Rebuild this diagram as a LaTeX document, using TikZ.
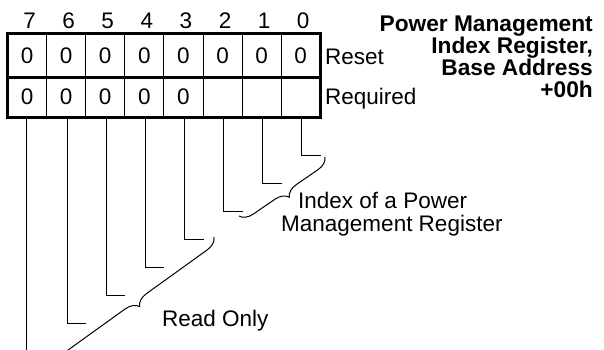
\documentclass[tikz,border=0pt]{standalone}
\usepackage{fontspec}
\setmainfont{Liberation Sans}
\usetikzlibrary{decorations.pathreplacing}
\begin{document}
\begin{tikzpicture}[x=1pt,y=-1pt,
  txt/.style={font=\fontsize{22.5}{22.5}\selectfont, inner sep=0pt},
  ttl/.style={font=\fontsize{22.7}{22.7}\selectfont\bfseries, inner sep=0pt, anchor=base east},
  cellA/.style={draw, line width=1pt, minimum width=39.1pt, minimum height=43.5pt, inner sep=0pt, anchor=north west, txt},
  cellB/.style={draw, line width=1pt, minimum width=39.1pt, minimum height=40pt, inner sep=0pt, anchor=north west, txt},
  lead/.style={line width=1pt},
  bracelink/.style={line width=1pt, decorate, decoration={brace, amplitude=13pt}},
  frame/.style={line width=3pt}]
\useasboundingbox (0,0) rectangle (604,349);
\clip (0,0) rectangle (604,349);
% bit numbers and cells
\foreach \b [count=\i from 0] in {7,6,5,4,3,2,1,0} {
  \node[txt, anchor=base] (b\b) at ({7+39.1*\i+19.55+3},28) {\b};
}
\foreach \b/\v [count=\i from 0] in {7/0,6/0,5/0,4/0,3/0,2/0,1/0,0/0} {
  \node[cellA] (s\b) at ({7+39.1*\i},33) {\v};
}
\foreach \b/\v [count=\i from 0] in {7/0,6/0,5/0,4/0,3/0,2/{},1/{},0/{}} {
  \node[cellB] (q\b) at ({7+39.1*\i},76.5) {\v};
}
\draw[frame] (s7.north west) rectangle (q0.south east);
\draw[frame] (s7.south west) -- (s0.south east);
% row labels
\node[txt, anchor=base west] (reset) at (325,64) {Reset};
\node[txt, anchor=base west] (req) at (325,104) {Required};
% title
\node[ttl] (t1) at (593,31) {Power Management};
\node[ttl] (t2) at (593,53) {Index Register,};
\node[ttl] (t3) at (593,75) {Base Address};
\node[ttl] (t4) at (593,97) {+00h};
% leads
\foreach \b/\y in {0/155,1/183,2/211,3/239,4/267,5/295,6/323} {
  \coordinate (e\b) at (q\b.south east |- 0,\y);
  \draw[lead] ([xshift=1pt]q\b.south) |- (e\b);
}
\coordinate (e7) at (q7.south |- 0,352);
\draw[lead] ([xshift=-0.5pt]q7.south) -- ([xshift=-0.5pt]e7);
% braces
\coordinate (ba1) at (325,157);
\coordinate (bb1) at (239,216);
\draw[bracelink] (ba1) -- (bb1);
\coordinate (ba2) at (214,237);
\coordinate (bb2) at (50,355);
\draw[bracelink] (ba2) -- (bb2);
% brace labels
\node[txt, anchor=base west] (idx1) at (298,208) {Index of a Power};
\node[txt, anchor=base west] (idx2) at (281,231) {Management Register};
\node[txt, anchor=base west] (ro) at (162,326) {Read Only};
\end{tikzpicture}
\end{document}
